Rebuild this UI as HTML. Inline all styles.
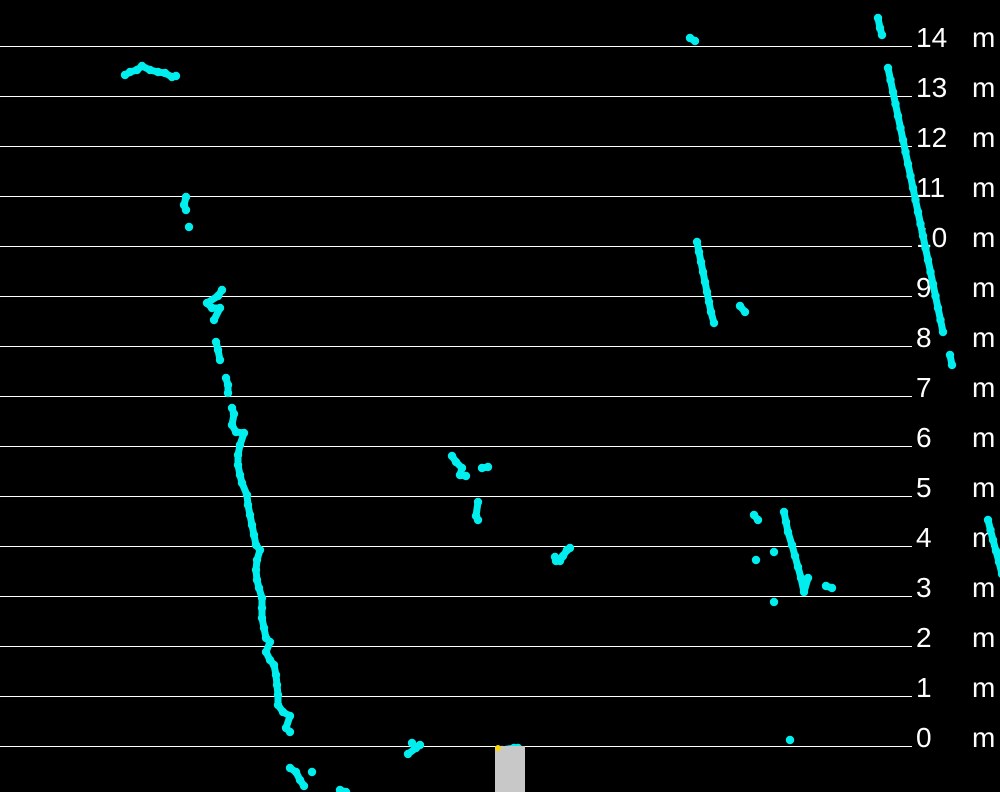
<!DOCTYPE html>
<html><head><meta charset="utf-8"><style>
html,body{margin:0;padding:0;background:#000;width:1000px;height:792px;overflow:hidden}
svg{display:block}
text{font-family:"Liberation Sans",sans-serif;fill:#fff;font-size:28px}
</style></head><body>
<svg id="chart" width="1000" height="792" viewBox="0 0 1000 792">
<rect x="0" y="0" width="1000" height="792" fill="#000"/>
<g id="grid"></g>
<g id="pts"></g>
<rect x="495" y="746" width="30" height="46" fill="#c8c8c8"/>
<circle cx="498" cy="748" r="3" fill="#ffd700"/>
</svg>
<script>
const rangeTicks=[0,1,2,3,4,5,6,7,8,9,10,11,12,13,14];
const pointsX=[-7.70,-7.60,-7.46,-7.36,-7.20,-7.04,-6.90,-6.76,-6.68,
-6.48,-6.52,-6.48,-6.42,
-5.76,-5.84,-6.06,-5.96,-5.80,-5.92,-5.88,-5.84,-5.80,-5.68,-5.64,-5.64,-5.56,-5.52,-5.56,-5.48,-5.32,-5.40,-5.44,-5.44,-5.40,-5.36,-5.26,-5.24,-5.20,-5.16,-5.12,-5.08,-5.00,-5.06,-5.08,-5.06,-5.02,-4.96,-4.96,-4.96,-4.92,-4.88,-4.80,-4.88,-4.80,-4.72,-4.68,-4.66,-4.64,-4.64,-4.54,-4.40,-4.48,-4.40,
-4.40,-4.28,-4.20,-4.12,-3.96,-3.40,-3.28,
-1.96,-1.88,-2.04,-1.80,
-1.16,-1.08,-0.96,-1.00,-0.88,-0.56,-0.44,-0.64,-0.68,-0.64,
0.90,1.00,1.06,1.14,1.20,0.92,
-0.16,0.08,0.16,
3.60,3.70,
3.74,3.78,3.82,3.86,3.90,3.94,3.98,4.02,4.08,
4.60,4.70,
4.88,4.96,4.92,5.28,
5.48,5.52,5.56,5.64,5.70,5.76,5.82,5.88,
5.96,6.32,6.44,5.28,5.60,
7.36,7.40,7.44,
7.56,7.61,7.66,7.71,7.76,7.81,7.86,7.91,7.96,8.01,8.06,8.11,8.16,8.21,8.26,8.31,8.36,8.41,8.46,8.51,8.56,8.61,8.66,
8.80,8.84,
9.56,9.61,9.66,9.72,9.78,9.84];
const pointsY=[13.42,13.48,13.52,13.60,13.52,13.48,13.46,13.38,13.40,
10.98,10.82,10.72,10.38,
9.12,9.00,8.86,8.76,8.76,8.52,8.08,7.92,7.72,7.36,7.22,7.06,6.76,6.64,6.42,6.28,6.26,6.02,5.82,5.62,5.42,5.26,5.02,4.82,4.62,4.42,4.22,4.02,3.92,3.72,3.52,3.32,3.16,2.96,2.76,2.56,2.36,2.16,2.08,1.88,1.72,1.62,1.42,1.22,1.02,0.82,0.68,0.60,0.36,0.28,
-0.44,-0.52,-0.68,-0.80,-0.52,-0.88,-0.92,
0.06,-0.04,-0.16,0.02,
5.80,5.68,5.56,5.42,5.40,5.56,5.58,4.88,4.60,4.52,
3.78,3.70,3.80,3.92,3.96,3.70,
-0.08,-0.04,-0.04,
14.16,14.10,
10.08,9.88,9.68,9.48,9.28,9.08,8.88,8.68,8.46,
8.80,8.68,
4.62,4.52,3.72,3.88,
4.68,4.48,4.28,4.02,3.80,3.58,3.36,3.08,
3.36,3.20,3.16,2.88,0.12,
14.56,14.36,14.22,
13.56,13.32,13.08,12.84,12.60,12.36,12.12,11.88,11.64,11.40,11.16,10.92,10.68,10.44,10.20,9.96,9.72,9.48,9.24,9.00,8.76,8.52,8.28,
7.82,7.62,
4.52,4.32,4.12,3.90,3.68,3.44];

const NS='http://www.w3.org/2000/svg';
const sx=m=>510+m*50;
const sy=m=>746-m*50;
const grid=document.getElementById('grid');
rangeTicks.forEach(t=>{
  const l=document.createElementNS(NS,'line');
  l.setAttribute('x1',0);l.setAttribute('x2',912);
  l.setAttribute('y1',sy(t)+0.5);l.setAttribute('y2',sy(t)+0.5);
  l.setAttribute('stroke','#fff');l.setAttribute('stroke-width',1);
  
  
  grid.appendChild(l);
  const n=document.createElementNS(NS,'text');
  n.setAttribute('x',916);n.setAttribute('y',sy(t)+1);
  n.textContent=String(t);
  
  
  grid.appendChild(n);
  const u=document.createElementNS(NS,'text');
  u.setAttribute('x',972);u.setAttribute('y',sy(t)+1);
  u.textContent='m';
  
  
  grid.appendChild(u);
});
const pts=document.getElementById('pts');
for(let i=0;i<pointsX.length;i++){
  if(i>0){
    const dx=pointsX[i]-pointsX[i-1],dy=pointsY[i]-pointsY[i-1];
    if(Math.hypot(dx,dy)<0.3){
      const s=document.createElementNS(NS,'line');
      s.setAttribute('x1',sx(pointsX[i-1]));s.setAttribute('y1',sy(pointsY[i-1]));
      s.setAttribute('x2',sx(pointsX[i]));s.setAttribute('y2',sy(pointsY[i]));
      s.setAttribute('stroke','#00eeee');s.setAttribute('stroke-width',7);
      s.setAttribute('stroke-linecap','round');
      
      
      pts.appendChild(s);
    }
  }
  const c=document.createElementNS(NS,'circle');
  c.setAttribute('cx',sx(pointsX[i]));c.setAttribute('cy',sy(pointsY[i]));
  c.setAttribute('r',4.2);c.setAttribute('fill','#00eeee');
  
  
  pts.appendChild(c);
}
</script>
</body></html>
